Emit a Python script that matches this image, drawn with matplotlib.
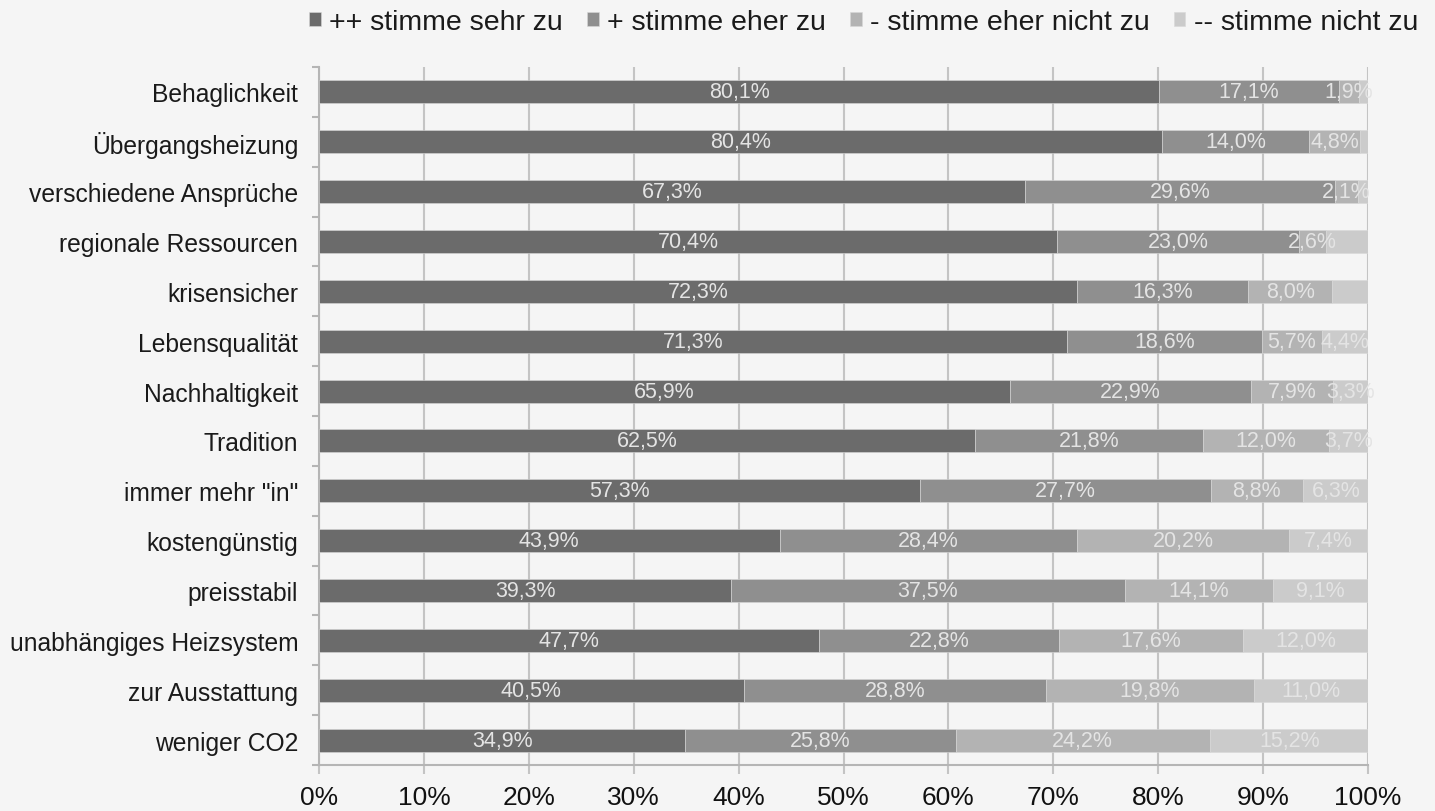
import matplotlib
matplotlib.use("Agg")
import matplotlib.pyplot as plt
import numpy as np
from matplotlib.ticker import FixedLocator, PercentFormatter

plt.rcParams['font.family'] = ['Liberation Sans', 'DejaVu Sans']

categories = ["Behaglichkeit", "Übergangsheizung", "verschiedene Ansprüche",
              "regionale Ressourcen", "krisensicher", "Lebensqualität",
              "Nachhaltigkeit", "Tradition", 'immer mehr "in"', "kostengünstig",
              "preisstabil", "unabhängiges Heizsystem", "zur Ausstattung", "weniger CO2"]

series_names = ["++ stimme sehr zu", "+ stimme eher zu",
                "- stimme eher nicht zu", "-- stimme nicht zu"]

s1 = [80.1, 80.4, 67.3, 70.4, 72.3, 71.3, 65.9, 62.5, 57.3, 43.9, 39.3, 47.7, 40.5, 34.9]
s2 = [17.1, 14.0, 29.6, 23.0, 16.3, 18.6, 22.9, 21.8, 27.7, 28.4, 37.5, 22.8, 28.8, 25.8]
s3 = [1.9, 4.8, 2.1, 2.6, 8.0, 5.7, 7.9, 12.0, 8.8, 20.2, 14.1, 17.6, 19.8, 24.2]
s4 = [0.9, 0.8, 1.0, 4.0, 3.4, 4.4, 3.3, 3.7, 6.3, 7.4, 9.1, 12.0, 11.0, 15.2]
s4_labelled = [False, False, False, False, False, True, True, True, True, True, True, True, True, True]

colors = ["#6b6b6b", "#8f8f8f", "#b3b3b3", "#cbcbcb"]

fig = plt.figure(figsize=(14.35, 8.12), dpi=100)
fig.patch.set_facecolor("#f5f5f5")
ax = fig.add_axes([319/1435, 1-766/812, (1368-319)/1435, (766-68)/812])
ax.set_facecolor("#f5f5f5")

y = np.arange(len(categories))
left = np.zeros(len(categories))
all_series = [s1, s2, s3, s4]
for i, (vals, name, col) in enumerate(zip(all_series, series_names, colors)):
    vals = np.array(vals)
    ax.barh(y, vals, left=left, height=0.46, color=col, label=name,
            edgecolor="#d8d8d8", linewidth=0.4, zorder=3)
    for j, (v, l) in enumerate(zip(vals, left)):
        if i == 3 and not s4_labelled[j]:
            continue
        txt = f"{v:.1f}%".replace(".", ",")
        ax.text(l + v / 2, y[j], txt, ha="center", va="center",
                color="#e4e4e4", fontsize=15.5, zorder=4)
    left = left + vals

ax.set_xlim(0, 100)
ax.set_ylim(len(categories) - 0.5, -0.5)
ax.xaxis.set_major_locator(FixedLocator(np.arange(0, 101, 10)))
ax.xaxis.set_major_formatter(PercentFormatter(decimals=0))
ax.grid(axis="x", color="#c4c4c4", linewidth=1.5, zorder=0)
ax.set_axisbelow(True)

ax.set_yticks(y)
ax.set_yticklabels(categories, fontsize=17.7, color="#1a1a1a")
ax.yaxis.set_minor_locator(FixedLocator(np.arange(-0.5, len(categories), 1.0)))
ax.tick_params(axis="y", which="major", length=0, pad=15)
ax.tick_params(axis="y", which="minor", length=5, color="#b5b5b5", width=1.5)
ax.tick_params(axis="x", which="major", length=6.5, color="#c4c4c4", width=1.5,
               labelsize=19, labelcolor="#111111", pad=8)

for side in ["top", "right"]:
    ax.spines[side].set_visible(False)
for side in ["left", "bottom"]:
    ax.spines[side].set_color("#b5b5b5")
    ax.spines[side].set_linewidth(1.5)

leg = fig.legend(loc="center", bbox_to_anchor=(0.602, 1 - 23/812), ncol=4, frameon=False,
                 fontsize=20.5, handlelength=0.4, handleheight=0.4, handletextpad=0.3,
                 columnspacing=0.85, borderaxespad=0, borderpad=0)
for t in leg.get_texts():
    t.set_color("#1a1a1a")

fig.savefig("out.png", dpi=100, facecolor=fig.get_facecolor())
